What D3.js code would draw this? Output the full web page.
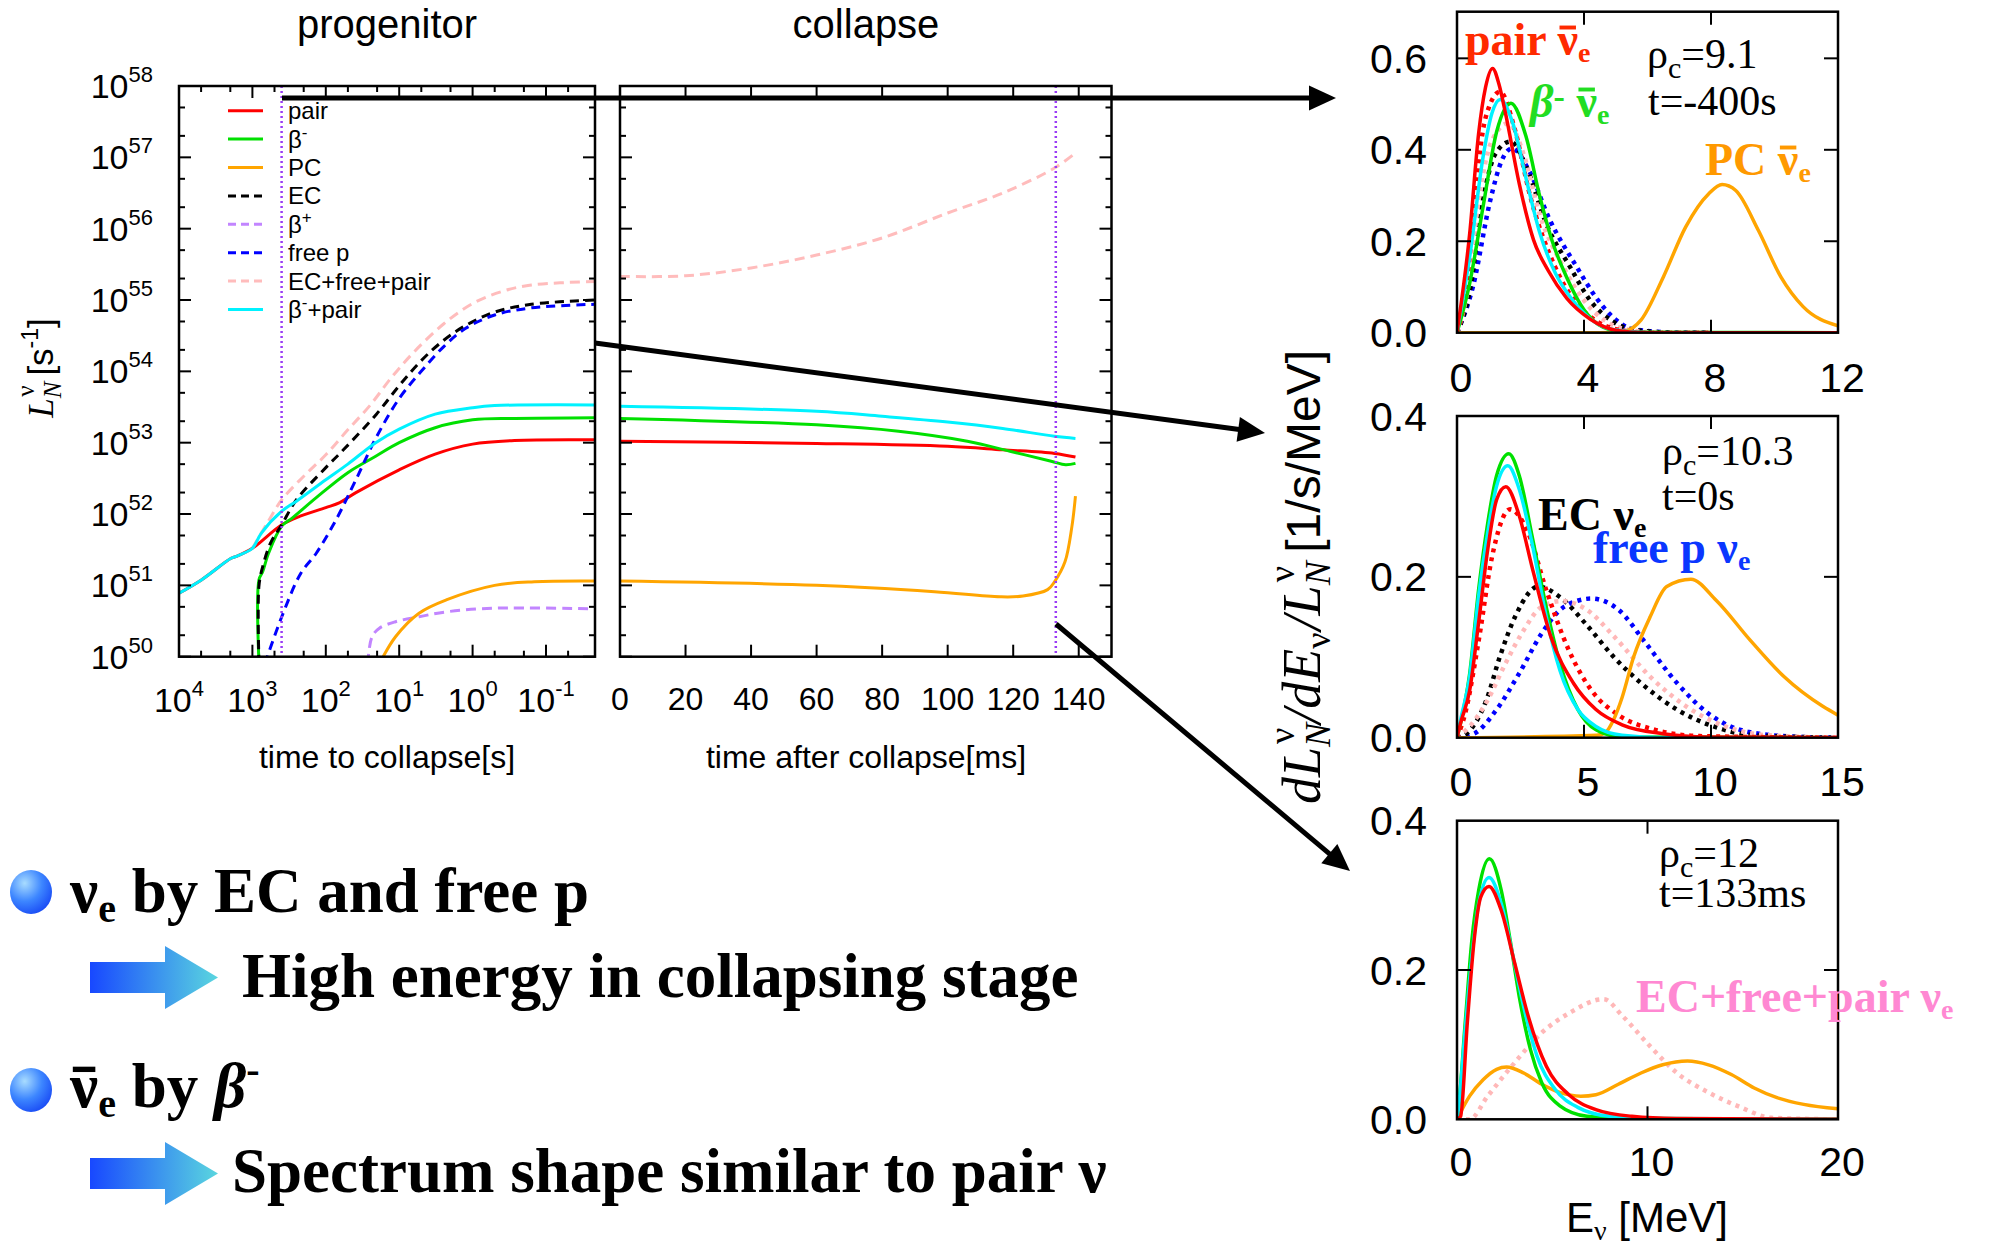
<!DOCTYPE html>
<html><head><meta charset="utf-8">
<script src="https://cdn.jsdelivr.net/npm/d3@7"></script>
<style>body{margin:0;background:#fff}svg{display:block}</style>
</head><body>
<svg width="1989" height="1251"></svg>
<script>
// ---------------- DATA ----------------
// progenitor panel: [log10(time to collapse / s), log10(L / s^-1)]
const progPair = [[4,50.89],[3.69,51.08],[3.29,51.38],[3.21,51.41],[3.0,51.52],[2.6,51.85],[2.35,51.97],[2.0,52.09],[1.81,52.16],[1.59,52.30],[1.0,52.62],[0.51,52.84],[0.0,52.98],[-0.57,53.03],[-1.67,53.04]];
const progBetaMinus = [[2.91,49.9],[2.91,51.08],[2.86,51.19],[2.78,51.45],[2.6,51.83],[2.45,51.95],[2.13,52.23],[1.7,52.58],[1.32,52.81],[1.0,53.0],[0.51,53.21],[0.0,53.32],[-0.57,53.34],[-1.67,53.35]];
const progPC = [[1.27,49.9],[1.05,50.28],[0.73,50.61],[0.35,50.80],[-0.3,51.0],[-0.84,51.05],[-1.67,51.06]];
const progEC = [[2.91,49.9],[2.91,51.0],[2.85,51.3],[2.75,51.6],[2.6,51.85],[2.4,52.2],[2.0,52.65],[1.76,52.9],[1.31,53.4],[1.0,53.8],[0.7,54.15],[0.4,54.43],[0.1,54.64],[-0.3,54.83],[-0.8,54.94],[-1.67,55.0]];
const progBetaPlus = [[1.43,49.9],[1.37,50.28],[1.27,50.40],[1.05,50.49],[0.73,50.56],[0.35,50.63],[-0.3,50.68],[-1.67,50.67]];
const progFreeP = [[2.83,49.9],[2.6,50.56],[2.34,51.17],[2.13,51.45],[1.86,51.92],[1.59,52.48],[1.32,53.06],[1.0,53.62],[0.7,54.0],[0.4,54.34],[0.1,54.6],[-0.3,54.79],[-0.8,54.89],[-1.67,54.94]];
const progECFreePair = [[3.0,51.52],[2.8,51.87],[2.6,52.2],[2.3,52.53],[2.0,52.83],[1.7,53.18],[1.4,53.52],[1.1,53.92],[0.8,54.27],[0.4,54.66],[0.0,54.95],[-0.4,55.12],[-0.8,55.21],[-1.67,55.26]];
const progBetaMinusPair = [[4,50.89],[3.69,51.08],[3.29,51.38],[3.21,51.41],[3.0,51.52],[2.88,51.73],[2.6,52.04],[2.4,52.18],[2.0,52.48],[1.7,52.7],[1.32,53.0],[1.0,53.19],[0.51,53.40],[0.0,53.49],[-0.3,53.52],[-1.67,53.53]];

// collapse panel: [time after collapse / ms, log10(L / s^-1)]
const colPair = [[0,53.02],[60,52.99],[100,52.95],[116.8,52.90],[132.6,52.85],[139,52.80]];
const colBetaMinus = [[0,53.34],[60,53.25],[85,53.16],[106,53.02],[119,52.88],[131.6,52.74],[136,52.69],[139,52.71]];
const colPC = [[0,51.06],[60,51.0],[96,50.91],[116,50.84],[123,50.85],[130.5,50.94],[132.6,51.05],[135.8,51.33],[137.9,51.82],[139,52.25]];
const colECFreePair = [[0,55.33],[20,55.34],[40,55.45],[60,55.63],[80,55.87],[100,56.22],[116.8,56.5],[132.6,56.85],[139,57.06]];
const colBetaMinusPair = [[0,53.51],[60,53.44],[80,53.37],[100,53.29],[116.8,53.20],[132.6,53.09],[139,53.06]];

// tick labels
const progTickExps = [4,3,2,1,0,-1];
const lumTickExps = [50,51,52,53,54,55,56,57,58];
const collapseTicks = [0,20,40,60,80,100,120,140];
const legendLabels = [[["pair"]],[["β"],["-",1]],[["PC"]],[["EC"]],[["β"],["+",1]],[["free p"]],[["EC+free+pair"]],[["β"],["-",1],["+pair"]]];

// spectra: [E_nu / MeV, dL/dE/L (1/s/MeV)]
// panel 1: rho_c = 9.1, t = -400 s
const s1Pair = [[0,0],[0.4,0.217],[0.68,0.435],[0.9,0.537],[1.12,0.578],[1.32,0.544],[1.53,0.479],[1.96,0.326],[2.41,0.203],[2.88,0.135],[3.46,0.075],[4.19,0.03],[5.03,0.005],[6,0],[12,0]];
const s1BetaMinus = [[0,0],[0.4,0.108],[0.82,0.275],[1.25,0.44],[1.7,0.502],[2.17,0.43],[2.6,0.3],[3.0,0.2],[3.46,0.12],[4.0,0.05],[4.6,0.012],[5.3,0.001],[12,0]];
const s1BetaMinusPair = [[0,0],[0.4,0.166],[0.82,0.384],[1.1,0.48],[1.36,0.51],[1.75,0.46],[2.2,0.33],[2.6,0.22],[3.1,0.13],[3.6,0.075],[4.2,0.03],[4.9,0.007],[6,0],[12,0]];
const s1PC = [[0,0],[4.5,0],[5.2,0.002],[5.8,0.028],[6.5,0.122],[7.2,0.231],[7.93,0.304],[8.35,0.324],[8.78,0.311],[9.49,0.224],[10.2,0.122],[10.9,0.057],[12,0.015]];
const s1PairNu = [[0,0],[0.3,0.1],[0.55,0.29],[0.9,0.47],[1.36,0.527],[1.8,0.45],[2.3,0.3],[3.09,0.144],[3.7,0.07],[4.4,0.025],[5.2,0.005],[6,0],[8,0]];
const s1ECFreePair = [[0,0],[0.35,0.1],[0.68,0.29],[1.1,0.42],[1.62,0.458],[2.1,0.39],[2.6,0.26],[3.35,0.144],[4.0,0.07],[4.7,0.025],[5.5,0.005],[6.5,0],[8,0]];
const s1EC = [[0,0],[0.4,0.09],[0.82,0.29],[1.2,0.39],[1.68,0.418],[2.2,0.36],[2.8,0.24],[3.56,0.144],[4.2,0.07],[4.9,0.025],[5.7,0.005],[7,0],[8,0]];
const s1FreeP = [[0,0],[0.5,0.1],[1.05,0.29],[1.4,0.375],[1.73,0.403],[2.3,0.35],[2.9,0.25],[3.77,0.144],[4.4,0.075],[4.82,0.04],[5.55,0.008],[7,0],[8,0]];
// panel 2: rho_c = 10.3, t = 0 s
const s2Pair = [[0,0],[0.14,0.018],[0.5,0.059],[0.85,0.143],[1.21,0.234],[1.56,0.296],[1.92,0.312],[2.45,0.276],[2.98,0.209],[3.69,0.126],[4.58,0.068],[5.47,0.035],[6.5,0.016],[8.1,0.005],[9.9,0.001],[15,0]];
const s2BetaMinus = [[0,0],[0.14,0.018],[0.5,0.08],[0.85,0.184],[1.21,0.267],[1.56,0.326],[2.04,0.353],[2.45,0.326],[2.98,0.247],[3.51,0.163],[4.05,0.093],[4.76,0.035],[5.47,0.01],[6.5,0.001],[15,0]];
const s2BetaMinusPair = [[0,0],[0.14,0.022],[0.5,0.076],[0.85,0.176],[1.21,0.255],[1.56,0.313],[2.0,0.338],[2.45,0.309],[2.98,0.238],[3.51,0.151],[4.05,0.084],[4.76,0.035],[5.47,0.014],[6.5,0.003],[8.1,0],[15,0]];
const s2PC = [[0,0],[5.5,0.003],[5.83,0.006],[6.16,0.022],[6.5,0.05],[6.95,0.1],[7.6,0.15],[8.26,0.188],[9.21,0.197],[10.2,0.171],[11.55,0.121],[12.87,0.076],[14.4,0.039],[15,0.028]];
const s2PairNu = [[0,0],[0.32,0.03],[0.85,0.12],[1.38,0.225],[2.09,0.284],[2.8,0.255],[3.51,0.184],[4.4,0.109],[5.29,0.059],[6.36,0.028],[7.78,0.01],[9.55,0.002],[15,0]];
const s2EC = [[0,0],[0.37,0.005],[1.16,0.047],[1.68,0.1],[2.34,0.154],[3.2,0.188],[4.05,0.175],[5.11,0.14],[6.18,0.1],[7.24,0.068],[8.66,0.035],[10.1,0.014],[11.7,0.003],[15,0]];
const s2ECFreePair = [[0,0],[0.5,0.014],[1.21,0.047],[1.92,0.093],[2.63,0.134],[3.34,0.163],[4.14,0.17],[5.11,0.159],[6.18,0.126],[7.6,0.076],[9.02,0.039],[10.4,0.016],[12.2,0.003],[15,0]];
const s2FreeP = [[0,0],[0.67,0.005],[1.56,0.035],[2.45,0.08],[3.34,0.13],[4.23,0.163],[5.29,0.173],[6.36,0.159],[7.42,0.118],[8.66,0.068],[9.9,0.03],[11.5,0.007],[13.5,0.001],[15,0]];
// panel 3: rho_c = 12, t = 133 ms
const s3Pair = [[0,0],[0.19,0.004],[0.54,0.129],[0.9,0.24],[1.25,0.298],[1.68,0.312],[2.32,0.28],[3.03,0.209],[3.74,0.138],[4.69,0.071],[5.87,0.033],[7.29,0.013],[9.18,0.004],[11.5,0.001],[20,0]];
const s3BetaMinus = [[0,0],[0.07,0.013],[0.43,0.129],[0.78,0.24],[1.14,0.307],[1.7,0.349],[2.32,0.307],[2.79,0.24],[3.27,0.164],[3.86,0.093],[4.45,0.049],[5.4,0.018],[6.82,0.004],[8.7,0.001],[20,0]];
const s3BetaMinusPair = [[0,0],[0.07,0.013],[0.43,0.12],[0.78,0.218],[1.14,0.289],[1.68,0.324],[2.32,0.289],[2.91,0.222],[3.5,0.151],[4.21,0.084],[5.16,0.04],[6.34,0.016],[8.0,0.004],[10.1,0.001],[20,0]];
const s3PC = [[0,0],[0.66,0.031],[1.37,0.053],[2.08,0.067],[2.6,0.07],[3.5,0.062],[4.45,0.047],[5.4,0.036],[6.5,0.031],[7.29,0.033],[8.47,0.047],[9.66,0.062],[10.8,0.073],[12.1,0.078],[13.2,0.073],[14.4,0.06],[15.6,0.042],[16.8,0.029],[18.2,0.02],[20,0.014]];
const s3ECFreePair = [[0,0],[0.66,0],[1.61,0.031],[3.03,0.076],[4.45,0.116],[5.87,0.142],[7.7,0.161],[8.7,0.138],[10.13,0.098],[11.55,0.062],[13.2,0.036],[14.9,0.016],[16.5,0.002],[20,0]];

// ---------------- DRAWING ----------------
const sans = "'Liberation Sans', Arial, Helvetica, sans-serif";
const serif = "'Liberation Serif', 'Times New Roman', serif";
const svg = d3.select('svg');
const defs = svg.append('defs');
function clip(id,x,y,w,h){ defs.append('clipPath').attr('id',id).append('rect').attr('x',x).attr('y',y).attr('width',w).attr('height',h); }

function rich(parent, x, y, parts, o) {
  const t = parent.append('text').attr('x',x).attr('y',y)
    .style('font-family', o.family).style('font-size', o.size+'px')
    .style('font-weight', o.weight||'normal').attr('fill', o.fill||'#000')
    .attr('text-anchor', o.anchor||'start');
  if (o.transform) t.attr('transform', o.transform);
  let cur = 0, idx = 0; const bars = [];
  parts.forEach(p => {
    const s = t.append('tspan').text(p.t);
    const target = p.shift || 0;
    if (target !== cur) { s.attr('dy', target - cur); cur = target; }
    if (p.size) s.style('font-size', p.size+'px');
    if (p.italic) s.style('font-style','italic');
    if (p.family) s.style('font-family', p.family);
    if (p.weight) s.style('font-weight', p.weight);
    if (p.dx) s.attr('dx', p.dx);
    if (p.fill) s.attr('fill', p.fill);
    if (p.bar) bars.push({idx, size: p.size||o.size});
    idx += p.t.length;
  });
  bars.forEach(b=>{
    const e = t.node().getExtentOfChar(b.idx);
    parent.append('rect').attr('x', e.x + e.width*0.1).attr('width', e.width*0.8)
      .attr('y', y - b.size*0.64).attr('height', b.size*0.085).attr('fill', o.fill||'#000');
  });
  return t;
}

// ---- left plots geometry
const P = {x0:179, x1:595, y0:86, y1:656.7};
const C = {x0:620, x1:1111.5, y0:86, y1:656.7};
const xP = d3.scaleLog().domain([1e4, 0.0215]).range([P.x0, P.x1]);
const yL = d3.scaleLog().domain([1e50, 1e58]).range([P.y1, P.y0]);
const xC = d3.scaleLinear().domain([0,150]).range([C.x0, C.x1]);
clip('clipP', P.x0, P.y0, P.x1-P.x0, P.y1-P.y0);
clip('clipC', C.x0, C.y0, C.x1-C.x0, C.y1-C.y0);

const gL = svg.append('g');
gL.append('text').attr('x',387).attr('y',38).attr('text-anchor','middle').style('font-family',sans).style('font-size','40px').text('progenitor');
gL.append('text').attr('x',866).attr('y',38).attr('text-anchor','middle').style('font-family',sans).style('font-size','40px').text('collapse');

const lineP = d3.line().x(d=>xP(Math.pow(10,d[0]))).y(d=>yL(Math.pow(10,d[1]))).curve(d3.curveCatmullRom.alpha(0.5));
const lineC = d3.line().x(d=>xC(d[0])).y(d=>yL(Math.pow(10,d[1]))).curve(d3.curveCatmullRom.alpha(0.5));
const progSeries = [
  {d:progECFreePair, c:'#ffbcbc', dash:'10,6'},
  {d:progBetaPlus, c:'#c285ff', dash:'10,6'},
  {d:progPC, c:'#ffa500'},
  {d:progPair, c:'#ff0000'},
  {d:progBetaMinus, c:'#00e000'},
  {d:progEC, c:'#000000', dash:'9,6'},
  {d:progFreeP, c:'#0000ff', dash:'9,6'},
  {d:progBetaMinusPair, c:'#00f2ff'}
];
const gPc = gL.append('g').attr('clip-path','url(#clipP)');
progSeries.forEach(s=>{
  gPc.append('path').attr('d', lineP(s.d)).attr('fill','none').attr('stroke',s.c).attr('stroke-width',3)
    .attr('stroke-dasharray', s.dash||null);
});
const colSeries = [
  {d:colECFreePair, c:'#ffbcbc', dash:'10,6'},
  {d:colPC, c:'#ffa500'},
  {d:colPair, c:'#ff0000'},
  {d:colBetaMinus, c:'#00e000'},
  {d:colBetaMinusPair, c:'#00f2ff'}
];
const gCc = gL.append('g').attr('clip-path','url(#clipC)');
colSeries.forEach(s=>{
  gCc.append('path').attr('d', lineC(s.d)).attr('fill','none').attr('stroke',s.c).attr('stroke-width',3)
    .attr('stroke-dasharray', s.dash||null);
});
gL.append('line').attr('x1',xP(400)).attr('x2',xP(400)).attr('y1',P.y0).attr('y2',P.y1)
  .attr('stroke','#9a3cf5').attr('stroke-width',2.5).attr('stroke-dasharray','2,3');
gL.append('line').attr('x1',xC(133)).attr('x2',xC(133)).attr('y1',C.y0).attr('y2',C.y1)
  .attr('stroke','#9a3cf5').attr('stroke-width',2.5).attr('stroke-dasharray','2,3');

function frame(F){ gL.append('rect').attr('x',F.x0).attr('y',F.y0).attr('width',F.x1-F.x0).attr('height',F.y1-F.y0).attr('fill','none').attr('stroke','#000').attr('stroke-width',2.5); }
frame(P); frame(C);
function tick(x1,y1,x2,y2){ gL.append('line').attr('x1',x1).attr('y1',y1).attr('x2',x2).attr('y2',y2).attr('stroke','#000').attr('stroke-width',2); }
function yLogTicks(F){
  lumTickExps.forEach(e=>{
    const y = yL(Math.pow(10,e));
    tick(F.x0,y,F.x0+12,y); tick(F.x1,y,F.x1-12,y);
    if (e<58) [2,5].forEach(m=>{ const ym=yL(m*Math.pow(10,e)); tick(F.x0,ym,F.x0+6,ym); tick(F.x1,ym,F.x1-6,ym); });
  });
}
yLogTicks(P); yLogTicks(C);
[-2,-1,0,1,2,3,4].forEach(e=>{
  const v = Math.pow(10,e);
  if (v>=0.0215 && v<=1e4) { const x=xP(v); tick(x,P.y0,x,P.y0+12); tick(x,P.y1,x,P.y1-12); }
  [2,5].forEach(m=>{ const vm=m*v; if (vm>0.0215 && vm<1e4){ const x=xP(vm); tick(x,P.y0,x,P.y0+6); tick(x,P.y1,x,P.y1-6);} });
});
collapseTicks.forEach(v=>{ if(v>0){ const x=xC(v); tick(x,C.y0,x,C.y0+12); tick(x,C.y1,x,C.y1-12);} });

lumTickExps.forEach(e=>{
  rich(gL, 153, yL(Math.pow(10,e))+12, [{t:'10'},{t:String(e),size:22,shift:-16}], {family:sans,size:34,anchor:'end'});
});
progTickExps.forEach(e=>{
  rich(gL, xP(Math.pow(10,e)), 712, [{t:'10'},{t:String(e),size:22,shift:-16}], {family:sans,size:34,anchor:'middle'});
});
collapseTicks.forEach(v=>{
  gL.append('text').attr('x',xC(v)).attr('y',710).attr('text-anchor','middle').style('font-family',sans).style('font-size','32px').text(v);
});
gL.append('text').attr('x',387).attr('y',768).attr('text-anchor','middle').style('font-family',sans).style('font-size','32px').text('time to collapse[s]');
gL.append('text').attr('x',866).attr('y',768).attr('text-anchor','middle').style('font-family',sans).style('font-size','32px').text('time after collapse[ms]');
rich(gL, 0, 0, [{t:'L',italic:true,family:serif},{t:'N',italic:true,family:serif,size:25,shift:8},{t:'ν',family:serif,size:25,shift:-19,dx:-15},{t:' [s',shift:0},{t:'-1',size:23,shift:-15},{t:']',shift:0}],
  {family:sans,size:35,anchor:'middle',transform:'translate(53,368) rotate(-90)'});

const legendStyles = [['#ff0000',null],['#00e000',null],['#ffa500',null],['#000000','8,5'],['#c285ff','8,5'],['#0000ff','8,5'],['#ffbcbc','8,5'],['#00f2ff',null]];
legendLabels.forEach((lab,i)=>{
  const y = 110.7 + 28.4*i;
  const st = legendStyles[i];
  gL.append('line').attr('x1',228).attr('x2',263).attr('y1',y).attr('y2',y).attr('stroke',st[0]).attr('stroke-width',3).attr('stroke-dasharray',st[1]);
  rich(gL, 288, y+8.5, lab.map(p=>p[1]?{t:p[0],size:17,shift:-10}:{t:p[0],shift:0}), {family:sans,size:24});
});

// ---- right spectra panels
const panels = [
  {y0:11.7, y1:332.7, xmax:12, ymax:0.702, xt:[4,8], xl:[0,4,8,12], yt:[0.2,0.4,0.6], yl:[0,0.2,0.4,0.6], lx:377,
   series:[[s1FreeP,'#0000ff',1],[s1EC,'#000000',1],[s1ECFreePair,'#ffb8b8',1],[s1PairNu,'#ff0000',1],[s1PC,'#ffa500',0],[s1BetaMinus,'#00e000',0],[s1BetaMinusPair,'#00f2ff',0],[s1Pair,'#ff0000',0]]},
  {y0:416, y1:737.7, xmax:15, ymax:0.4, xt:[5,10], xl:[0,5,10,15], yt:[0.2], yl:[0,0.2,0.4], lx:781,
   series:[[s2FreeP,'#0000ff',1],[s2EC,'#000000',1],[s2ECFreePair,'#ffb8b8',1],[s2PairNu,'#ff0000',1],[s2PC,'#ffa500',0],[s2BetaMinus,'#00e000',0],[s2BetaMinusPair,'#00f2ff',0],[s2Pair,'#ff0000',0]]},
  {y0:820.7, y1:1119.3, xmax:20, ymax:0.4, xt:[10], xl:[0,10,20], yt:[0.2], yl:[0,0.2,0.4], lx:1161,
   series:[[s3ECFreePair,'#ffb8b8',1],[s3PC,'#ffa500',0],[s3BetaMinus,'#00e000',0],[s3BetaMinusPair,'#00f2ff',0],[s3Pair,'#ff0000',0]]}
];
const gR = svg.append('g');
const RX0 = 1457, RX1 = 1838;
panels.forEach((p,i)=>{
  const x = d3.scaleLinear().domain([0,p.xmax]).range([RX0,RX1]);
  const y = d3.scaleLinear().domain([0,p.ymax]).range([p.y1,p.y0]);
  clip('clipS'+i, RX0, p.y0, RX1-RX0, p.y1-p.y0);
  const g = gR.append('g').attr('clip-path','url(#clipS'+i+')');
  const line = d3.line().x(d=>x(d[0])).y(d=>y(d[1])).curve(d3.curveMonotoneX);
  p.series.forEach(s=>{
    g.append('path').attr('d',line(s[0])).attr('fill','none').attr('stroke',s[1])
      .attr('stroke-width', s[2]?4.5:3.5).attr('stroke-dasharray', s[2]?'4,5':null);
  });
  gR.append('rect').attr('x',RX0).attr('y',p.y0).attr('width',RX1-RX0).attr('height',p.y1-p.y0).attr('fill','none').attr('stroke','#000').attr('stroke-width',2.5);
  p.xt.forEach(v=>{
    gR.append('line').attr('x1',x(v)).attr('x2',x(v)).attr('y1',p.y1).attr('y2',p.y1-13).attr('stroke','#000').attr('stroke-width',2);
    gR.append('line').attr('x1',x(v)).attr('x2',x(v)).attr('y1',p.y0).attr('y2',p.y0+13).attr('stroke','#000').attr('stroke-width',2);
  });
  p.yt.forEach(v=>{
    gR.append('line').attr('x1',RX0).attr('x2',RX0+14).attr('y1',y(v)).attr('y2',y(v)).attr('stroke','#000').attr('stroke-width',2);
    gR.append('line').attr('x1',RX1).attr('x2',RX1-14).attr('y1',y(v)).attr('y2',y(v)).attr('stroke','#000').attr('stroke-width',2);
  });
  p.xl.forEach(v=>{
    gR.append('text').attr('x',x(v)+4).attr('y',p.lx+15).attr('text-anchor','middle').style('font-family',sans).style('font-size','41px').text(v);
  });
  p.yl.forEach(v=>{
    gR.append('text').attr('x',1427).attr('y',y(v)+14.5).attr('text-anchor','end').style('font-family',sans).style('font-size','41px').text(d3.format('.1f')(v));
  });
});
rich(gR, 1647, 1232, [{t:'E'},{t:'ν',size:28,shift:8,family:serif},{t:' [MeV]',shift:0}], {family:sans,size:42,anchor:'middle'});
rich(gR, 0, 0, [
  {t:'dL',italic:true,family:serif},{t:'N',italic:true,family:serif,size:36,shift:10},{t:'ν',family:serif,size:36,shift:-26,dx:-21},
  {t:'/dE',italic:true,family:serif,shift:0,dx:4},{t:'ν',family:serif,size:36,shift:10},
  {t:'/L',italic:true,family:serif,shift:0,dx:2},{t:'N',italic:true,family:serif,size:36,shift:10},{t:'ν',family:serif,size:36,shift:-26,dx:-21},
  {t:' [1/s/MeV]',shift:0,family:sans,size:48}
], {family:serif,size:54,anchor:'middle',transform:'translate(1320,577) rotate(-90)'});

// annotations
const bold = {family:serif,size:46,weight:'bold'};
rich(gR,1465,55,[{t:'pair '},{t:'ν',bar:true},{t:'e',size:28,shift:7}],Object.assign({fill:'#ff2a00'},bold));
rich(gR,1530,117,[{t:'β',italic:true},{t:'-',size:34,shift:-9},{t:' ',shift:0},{t:'ν',bar:true},{t:'e',size:28,shift:7}],Object.assign({fill:'#22dd22'},bold));
rich(gR,1705,175,[{t:'PC '},{t:'ν',bar:true},{t:'e',size:28,shift:7}],Object.assign({fill:'#ff9900'},bold));
rich(gR,1538,530,[{t:'EC ν'},{t:'e',size:28,shift:7}],Object.assign({fill:'#000'},bold));
rich(gR,1593,563,[{t:'free p ν'},{t:'e',size:28,shift:7}],Object.assign({fill:'#0a36ff'},bold));
rich(gR,1636,1012,[{t:'EC+free+pair ν'},{t:'e',size:28,shift:7}],Object.assign({fill:'#ff88d2'},bold));
const rho = {family:serif,size:42};
rich(gR,1647,68,[{t:'ρ'},{t:'c',size:30,shift:10},{t:'=9.1',shift:0}],rho);
rich(gR,1648,115,[{t:'t=-400s'}],rho);
rich(gR,1662,465,[{t:'ρ'},{t:'c',size:30,shift:10},{t:'=10.3',shift:0}],rho);
rich(gR,1662,510,[{t:'t=0s'}],rho);
rich(gR,1659,867,[{t:'ρ'},{t:'c',size:30,shift:10},{t:'=12',shift:0}],rho);
rich(gR,1659,907,[{t:'t=133ms'}],rho);

// ---- connecting arrows
const gA = svg.append('g');
function arrow(x1,y1,x2,y2){
  const L = Math.hypot(x2-x1,y2-y1), ux=(x2-x1)/L, uy=(y2-y1)/L, nx=-uy, ny=ux;
  const hl=27, hw=12.5, bx=x2-ux*hl, by=y2-uy*hl;
  gA.append('line').attr('x1',x1).attr('y1',y1).attr('x2',bx+ux*3).attr('y2',by+uy*3).attr('stroke','#000').attr('stroke-width',5);
  gA.append('path').attr('d',`M${x2},${y2}L${bx+nx*hw},${by+ny*hw}L${bx-nx*hw},${by-ny*hw}Z`).attr('fill','#000');
}
arrow(282,98,1336,98);
arrow(595,343,1265,433);
arrow(1056,624,1350,871);

// ---- bullet text
const gB = svg.append('g');
const rg = defs.append('radialGradient').attr('id','ball').attr('cx','35%').attr('cy','30%').attr('r','75%');
rg.append('stop').attr('offset','0%').attr('stop-color','#a8dcff');
rg.append('stop').attr('offset','55%').attr('stop-color','#3d86ff');
rg.append('stop').attr('offset','100%').attr('stop-color','#1a4cf5');
const lg = defs.append('linearGradient').attr('id','arr').attr('x1','0%').attr('x2','100%').attr('y1','0%').attr('y2','0%');
lg.append('stop').attr('offset','0%').attr('stop-color','#1848ff');
lg.append('stop').attr('offset','100%').attr('stop-color','#5ad6df');
[892,1090].forEach(cy=>gB.append('ellipse').attr('cx',31).attr('cy',cy).attr('rx',21).attr('ry',22).attr('fill','url(#ball)'));
[962,1158].forEach(t=>{
  gB.append('path').attr('d',`M90,${t}H165V${t-16}L218,${t+15.5}L165,${t+47}V${t+31}H90Z`).attr('fill','url(#arr)');
});
const bb = {family:serif,size:63,weight:'bold'};
rich(gB,70,912,[{t:'ν'},{t:'e',size:40,shift:10},{t:' by EC and free p',shift:0}],bb);
rich(gB,242,997,[{t:'High energy in collapsing stage'}],bb);
rich(gB,70,1107,[{t:'ν',bar:true},{t:'e',size:40,shift:10},{t:' by ',shift:0},{t:'β',italic:true},{t:'-',size:40,shift:-24}],bb);
rich(gB,232,1192,[{t:'Spectrum shape similar to pair ν'}],bb);
</script>
</body></html>
